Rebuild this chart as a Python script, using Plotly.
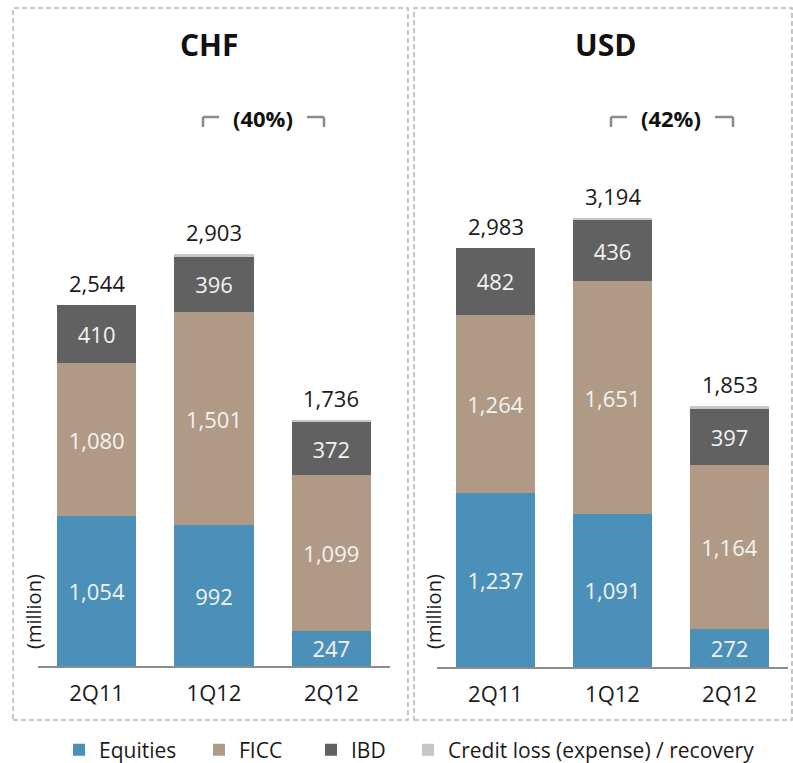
import plotly.graph_objects as go

quarters = ["2Q11", "1Q12", "2Q12"]

# CHF million
chf_equities = [1054, 992, 247]
chf_ficc = [1080, 1501, 1099]
chf_ibd = [410, 396, 372]
chf_credit = [0, 14, 18]
chf_total = [2544, 2903, 1736]

# USD million
usd_equities = [1237, 1091, 272]
usd_ficc = [1264, 1651, 1164]
usd_ibd = [482, 436, 397]
usd_credit = [0, 16, 20]
usd_total = [2983, 3194, 1853]

series_names = ["Equities", "FICC", "IBD", "Credit loss (expense) / recovery"]
colors = ["#4a90b8", "#b09a85", "#616161", "#c6c6c6"]

W, H = 793, 763
FONT = "Open Sans"


def px(x):
    return x / W


def py(y):
    return (H - y) / H


fig = go.Figure()

legend_ids = ["legend", "legend2", "legend3", "legend4"]
legend_text_x = [98, 238, 350, 447]  # where each legend label starts

panels = [
    ("x", "y", [chf_equities, chf_ficc, chf_ibd, chf_credit], chf_total, True),
    ("x2", "y2", [usd_equities, usd_ficc, usd_ibd, usd_credit], usd_total, False),
]

for xa, ya, stacks, totals, show in panels:
    for i, (name, vals) in enumerate(zip(series_names, stacks)):
        labelled = i < 3
        fig.add_trace(go.Bar(
            x=quarters, y=vals, name=name, xaxis=xa, yaxis=ya,
            marker=dict(color=colors[i], line=dict(width=0)),
            width=0.675,
            text=[f"{v:,}" for v in vals] if labelled else None,
            textposition="inside" if labelled else "none",
            insidetextanchor="middle",
            textangle=0,
            constraintext="none",
            textfont=dict(family=FONT, size=22, color="#f3f3f3"),
            showlegend=show,
            legend=legend_ids[i],
            legendgroup=name,
            hoverinfo="skip",
        ))
    for q, t in zip(quarters, totals):
        fig.add_annotation(
            x=q, y=t, xref=xa, yref=ya, text=f"{t:,}", showarrow=False,
            yanchor="bottom", yshift=5,
            font=dict(family=FONT, size=22, color="#1a1a1a"),
        )

annotations_extra = [
    dict(text="<b>CHF</b>", x=px(210), y=py(44), size=30),
    dict(text="<b>USD</b>", x=px(605), y=py(44), size=30),
    dict(text="<b>(40%)</b>", x=px(263), y=py(118), size=22),
    dict(text="<b>(42%)</b>", x=px(671), y=py(118), size=22),
]
for a in annotations_extra:
    fig.add_annotation(
        x=a["x"], y=a["y"], xref="paper", yref="paper", text=a["text"],
        showarrow=False, xanchor="center", yanchor="middle",
        font=dict(family=FONT, size=a["size"], color="#111111"),
    )

for xm in (33, 433):
    fig.add_annotation(
        x=px(xm), y=py(612), xref="paper", yref="paper", text="(million)",
        showarrow=False, textangle=-90, xanchor="center", yanchor="middle",
        font=dict(family=FONT, size=20, color="#1a1a1a"),
    )

shapes = []
# dashed panel borders
for x0, x1 in ((13, 408), (414, 792)):
    shapes.append(dict(
        type="rect", xref="paper", yref="paper",
        x0=px(x0), x1=px(x1), y0=py(720), y1=py(8),
        line=dict(color="#b5b5b5", width=1.5, dash="5px,3px"),
        fillcolor="rgba(0,0,0,0)",
    ))

# brackets around the change percentages
for left, right, mid in ((203, 324, 263), (611, 733, 671)):
    ytop, ybot = py(117), py(127)
    gap = 44
    segs = [
        (left, ytop, mid - gap, ytop),
        (left, ytop, left, ybot),
        (mid + gap, ytop, right, ytop),
        (right, ytop, right, ybot),
    ]
    for x0, y0, x1, y1 in segs:
        shapes.append(dict(
            type="line", xref="paper", yref="paper",
            x0=px(x0), y0=y0, x1=px(x1), y1=y1,
            line=dict(color="#8a8a8a", width=2.5),
        ))

axis_x = dict(
    type="category", showline=True, linecolor="#8c8c8c", linewidth=1.5,
    ticks="", showgrid=False, zeroline=False, fixedrange=True,
    ticklabelstandoff=7,
    tickfont=dict(family=FONT, size=22, color="#1a1a1a"),
)
axis_y = dict(visible=False, showgrid=False, zeroline=False, fixedrange=True)

legend_style = dict(
    orientation="h", yanchor="middle", xanchor="left",
    font=dict(family=FONT, size=21, color="#1a1a1a"),
    bgcolor="rgba(0,0,0,0)", itemwidth=30,
)
legends = {}
for lid, tx in zip(legend_ids, legend_text_x):
    legends[lid] = dict(legend_style, x=px(tx - 39), y=py(750))

fig.update_layout(
    width=W, height=H,
    barmode="stack",
    paper_bgcolor="white", plot_bgcolor="white",
    margin=dict(l=0, r=0, t=0, b=0, autoexpand=False),
    xaxis=dict(axis_x, domain=[px(38), px(390)], anchor="y"),
    xaxis2=dict(axis_x, domain=[px(437), px(788)], anchor="y2"),
    yaxis=dict(axis_y, domain=[py(666), 1], range=[0, 666 / 0.1419], anchor="x"),
    yaxis2=dict(axis_y, domain=[py(667), 1], range=[0, 667 / 0.1406], anchor="x2"),
    shapes=shapes,
    font=dict(family=FONT),
    **legends,
)

fig.write_html("out.html", config={"displayModeBar": False},
               post_script="document.body.style.margin='0';")
